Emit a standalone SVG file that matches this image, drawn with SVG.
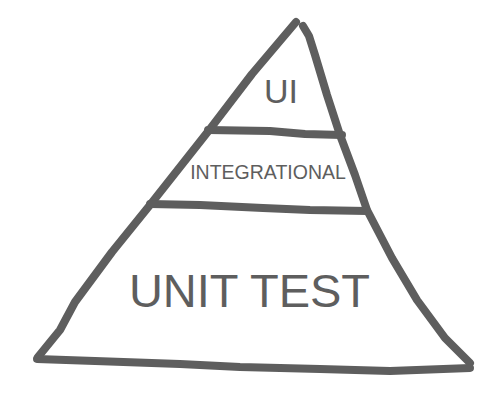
<svg xmlns="http://www.w3.org/2000/svg" width="499" height="410" viewBox="0 0 499 410">
<style>
.s{fill:none;stroke:#5e5e5e;stroke-width:8;stroke-linecap:round;stroke-linejoin:round}
.t{font-family:"Liberation Sans",Arial,sans-serif;fill:#5e5e5e;text-anchor:middle}
</style>
<rect width="499" height="410" fill="#fff"/>
<g id="connectors">
<path class="s" d="M38,357 L60,330 L75,302 L112,252 L150,205 L210,129 L252,74 L296,22"/>
<path class="s" d="M303,26 L309,36 L315,55 L327,95 L340,135 L355,175 L367,210 L392,258 L417,300 L445,338 L470,363"/>
<path class="s" d="M37,359 L95,361 L180,364 L240,367 L320,369 L390,371 L470,368"/>
<path class="s" d="M208,130 L270,131 L305,134 L342,135"/>
<path class="s" d="M150,204 L200,205 L263,208 L310,210 L367,211"/>
</g>
<g id="ui"><text class="t" x="281" y="103" font-size="34">UI</text></g>
<g id="integrational"><text class="t" x="268" y="179" font-size="19.5">INTEGRATIONAL</text></g>
<g id="unit-test"><text class="t" x="249.5" y="307" font-size="47">UNIT TEST</text></g>
</svg>
